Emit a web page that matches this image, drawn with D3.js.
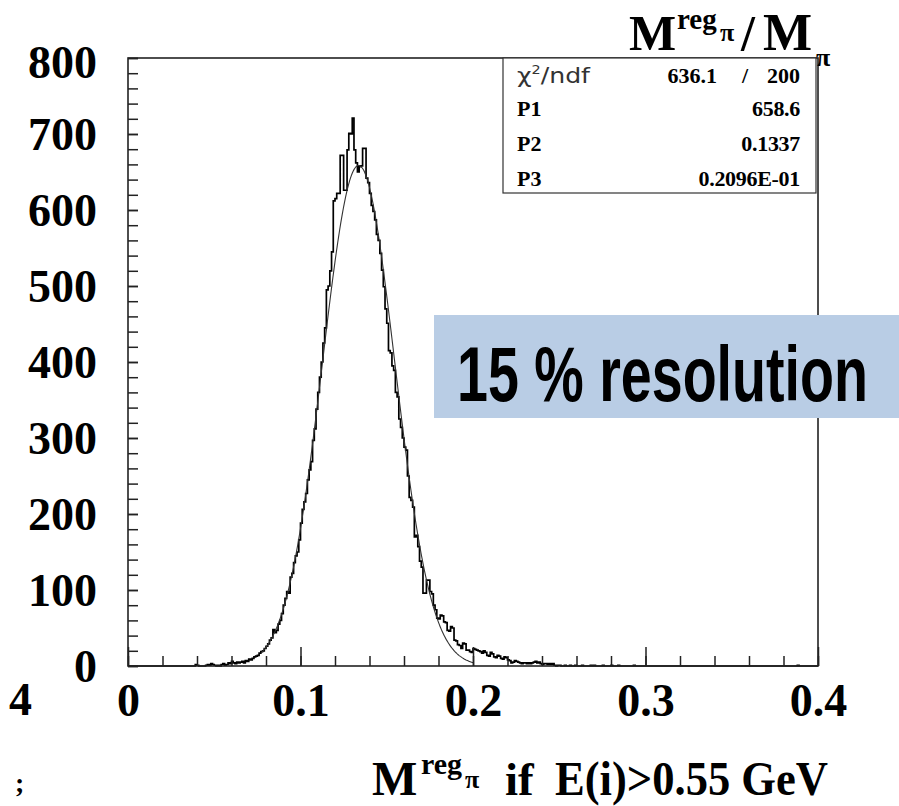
<!DOCTYPE html>
<html><head><meta charset="utf-8">
<script src="https://cdn.jsdelivr.net/npm/d3@7"></script>
<style>body{margin:0;background:#fff} svg{display:block}</style>
</head><body>
<svg id="c" width="899" height="806"></svg>
<script>
// ---- data ----
const binStart = 0.038;      // low edge of first listed bin
const binWidth = 0.001;
const counts = [
  0,2,
  1,0,0,0,0,1,2,1,3,2,
  1,0,1,0,2,3,1,2,4,3,
  6,4,3,5,4,5,6,4,7,6,
  9,8,10,12,13,14,17,19,20,23,
  26,29,34,37,48,44,47,55,60,69,
  80,89,98,96,117,122,136,145,150,166,
  188,206,216,227,245,258,269,297,312,338,
  360,380,400,425,445,495,500,520,545,612,
  615,622,622,672,672,626,626,679,701,700,
  721,679,662,650,657,658,681,681,642,636,
  622,606,598,587,568,560,543,521,499,470,
  451,415,412,395,389,360,354,325,314,300,
  288,284,250,222,218,209,170,172,157,138,
  130,96,96,113,113,98,95,80,74,63,
  62,67,66,58,57,47,46,52,50,34,
  33,28,27,23,30,29,21,21,19,18,
  23,22,21,20,19,17,20,18,14,13,
  18,16,12,11,14,13,10,9,12,11,
  8,7,4,5,7,6,5,4,3,4,
  4,3,4,3,4,5,6,4,5,3,
  2,3,3,2,3,2,3,1,0,1,
  1,0,0,1,0,0,1,0,0,1,
  0,0,0,1,0,0,0,0,1,0,
  1,0,0,0,0,1,0,0,0,0,
  1,0,0,0,1,0,0,0,0,0,
  0,0,0,1,0,0,0,0,0,0
];
const isolatedBinStarts = [0.388];
const isolatedBinCounts = [1];
const fitP1 = 658.6, fitP2 = 0.1337, fitP3 = 0.02096;
const fitRange = [0.0775, 0.2];
const xDomain = [0, 0.4];
const yDomain = [0, 800];
const xMajorTicks = [0, 0.1, 0.2, 0.3, 0.4];
const xTickLabels = ["0", "0.1", "0.2", "0.3", "0.4"];
const yTicks = [0, 100, 200, 300, 400, 500, 600, 700, 800];
const yTickLabels = ["0","100","200","300","400","500","600","700","800"];
const statLabels = ["P1", "P2", "P3"];
const statValues = ["658.6", "0.1337", "0.2096E-01"];
const chi2Value = "636.1", ndfValue = "200";
const annotation = "15 % resolution";

// ---- drawing ----
const svg = d3.select("#c");
const serif = "'Liberation Serif','Times New Roman',Times,serif";
const sans = "'Liberation Sans',Arial,Helvetica,sans-serif";
const x = d3.scaleLinear().domain(xDomain).range([128, 818]);
const y = d3.scaleLinear().domain(yDomain).range([666, 58]);

// histogram bins over full range
const nBins = Math.round((xDomain[1] - xDomain[0]) / binWidth);
const full = new Array(nBins).fill(0);
const off = Math.round(binStart / binWidth);
counts.forEach((c, i) => { full[off + i] = c; });
isolatedBinStarts.forEach((s, k) => { full[Math.round(s / binWidth)] = isolatedBinCounts[k]; });
const pts = [[xDomain[0], 0]];
full.forEach((c, i) => { pts.push([i * binWidth, c]); pts.push([(i + 1) * binWidth, c]); });
pts.push([xDomain[1], 0]);
const line = d3.line().x(d => x(d[0])).y(d => y(d[1]));
svg.append("path").attr("d", line(pts)).attr("fill", "none")
  .attr("stroke", "#000").attr("stroke-width", 1.7).attr("stroke-linejoin", "miter");

// fit curve
const fitPts = d3.range(0, 301).map(k => {
  const xv = fitRange[0] + (fitRange[1] - fitRange[0]) * k / 300;
  return [xv, fitP1 * Math.exp(-0.5 * Math.pow((xv - fitP2) / fitP3, 2))];
});
svg.append("path").attr("d", line(fitPts)).attr("fill", "none")
  .attr("stroke", "#333").attr("stroke-width", 1.1);

// frame
svg.append("rect").attr("x", x(xDomain[0])).attr("y", y(yDomain[1]))
  .attr("width", x(xDomain[1]) - x(xDomain[0])).attr("height", y(yDomain[0]) - y(yDomain[1]))
  .attr("fill", "none").attr("stroke", "#222").attr("stroke-width", 1.6);

// x axis minor + major ticks
const xMinor = d3.range(0, 21).map(k => k * 0.02);
const gxm = svg.append("g").attr("transform", `translate(0,${y(0)})`)
  .call(d3.axisBottom(x).tickValues(xMinor).tickSizeInner(-10).tickSizeOuter(0).tickFormat(""));
const gx = svg.append("g").attr("transform", `translate(0,${y(0)})`)
  .call(d3.axisBottom(x).tickValues(xMajorTicks).tickSizeInner(-19).tickSizeOuter(0)
    .tickPadding(17).tickFormat((d, i) => xTickLabels[i]));
[gxm, gx].forEach(g => { g.select(".domain").remove(); g.selectAll("line").attr("stroke", "#222").attr("stroke-width", 1.5); });
gx.selectAll("text").attr("font-family", serif).attr("font-weight", "bold").attr("font-size", 46).attr("fill", "#000");

// y axis
const yMinor = d3.range(0, 41).map(k => k * 20);
const gym = svg.append("g").attr("transform", `translate(${x(0)},0)`)
  .call(d3.axisLeft(y).tickValues(yMinor).tickSizeInner(-10).tickSizeOuter(0).tickFormat(""));
const gy = svg.append("g").attr("transform", `translate(${x(0)},0)`)
  .call(d3.axisLeft(y).tickValues(yTicks).tickSizeInner(-10).tickSizeOuter(0)
    .tickPadding(31).tickFormat((d, i) => yTickLabels[i]));
[gym, gy].forEach(g => { g.select(".domain").remove(); g.selectAll("line").attr("stroke", "#222").attr("stroke-width", 1.5); });
gy.selectAll("text").attr("font-family", serif).attr("font-weight", "bold").attr("font-size", 46)
  .attr("fill", "#000").attr("dy", d => d === 800 ? "0.42em" : "0.34em");

// stats box
const sb = svg.append("g");
sb.append("rect").attr("x", 503).attr("y", 58).attr("width", 313).attr("height", 135)
  .attr("fill", "#fff").attr("stroke", "#333").attr("stroke-width", 1.2);
const chiT = sb.append("text").attr("x", 517).attr("y", 83).attr("font-family", "'DejaVu Sans',sans-serif")
  .attr("font-size", 21).attr("fill", "#333").attr("textLength", 73).attr("lengthAdjust", "spacingAndGlyphs");
chiT.append("tspan").text("χ");
chiT.append("tspan").attr("font-size", 12).attr("dy", -9).text("2");
chiT.append("tspan").attr("dy", 9).text("/ndf");
sb.append("text").attr("x", 717).attr("y", 83).attr("text-anchor", "end").attr("font-family", serif)
  .attr("font-weight", "bold").attr("font-size", 22).text(chi2Value);
sb.append("text").attr("x", 745).attr("y", 83).attr("text-anchor", "middle").attr("font-family", serif)
  .attr("font-weight", "bold").attr("font-size", 22).text("/");
sb.append("text").attr("x", 800).attr("y", 83).attr("text-anchor", "end").attr("font-family", serif)
  .attr("font-weight", "bold").attr("font-size", 22).text(ndfValue);
const rowY = [116, 151, 186];
statLabels.forEach((l, i) => {
  sb.append("text").attr("x", 517).attr("y", rowY[i]).attr("font-family", serif)
    .attr("font-weight", "bold").attr("font-size", 22).text(l);
  sb.append("text").attr("x", 800).attr("y", rowY[i]).attr("text-anchor", "end").attr("font-family", serif)
    .attr("font-weight", "bold").attr("font-size", 22).attr("letter-spacing", -0.3).text(statValues[i]);
});

// title
const tt = svg.append("g").attr("font-family", serif).attr("font-weight", "bold").attr("fill", "#000");
tt.append("text").attr("x", 629).attr("y", 50).attr("font-size", 50).text("M");
tt.append("text").attr("x", 677).attr("y", 29).attr("font-size", 29).text("reg");
tt.append("text").attr("x", 720).attr("y", 41).attr("font-size", 26).text("π");
tt.append("text").attr("x", 741).attr("y", 50).attr("font-size", 50).text("/");
tt.append("text").attr("x", 763).attr("y", 50).attr("font-size", 52).text("M");
tt.append("text").attr("x", 816).attr("y", 66).attr("font-size", 26).text("π");

// x axis title
const xt = svg.append("g").attr("font-family", serif).attr("font-weight", "bold").attr("fill", "#000");
xt.append("text").attr("x", 372).attr("y", 795).attr("font-size", 48).text("M");
xt.append("text").attr("x", 421).attr("y", 774).attr("font-size", 30).text("reg");
xt.append("text").attr("x", 465).attr("y", 788).attr("font-size", 26).text("π");
xt.append("text").attr("x", 505).attr("y", 795).attr("font-size", 47).text("if");
xt.append("text").attr("x", 555).attr("y", 795).attr("font-size", 48)
  .attr("textLength", 273).attr("lengthAdjust", "spacingAndGlyphs").text("E(i)>0.55 GeV");

// stray fragments at the left edge
svg.append("text").attr("x", 32).attr("y", 715).attr("text-anchor", "end").attr("font-family", serif)
  .attr("font-weight", "bold").attr("font-size", 46).text("4");
svg.append("text").attr("x", 15).attr("y", 792).attr("font-family", serif)
  .attr("font-weight", "bold").attr("font-size", 28).text(";");

// annotation box (text condensed horizontally with a scale transform)
svg.append("rect").attr("x", 434).attr("y", 315).attr("width", 465).attr("height", 103).attr("fill", "#b9cde5");
const ann = svg.append("text").attr("x", 0).attr("y", 0).attr("font-family", sans).attr("font-weight", "bold")
  .attr("font-size", 78).attr("fill", "#000").text(annotation);
const natW = ann.node().getComputedTextLength() || 576;
ann.attr("transform", `translate(457,401) scale(${411 / natW},1)`);
</script>
</body></html>
